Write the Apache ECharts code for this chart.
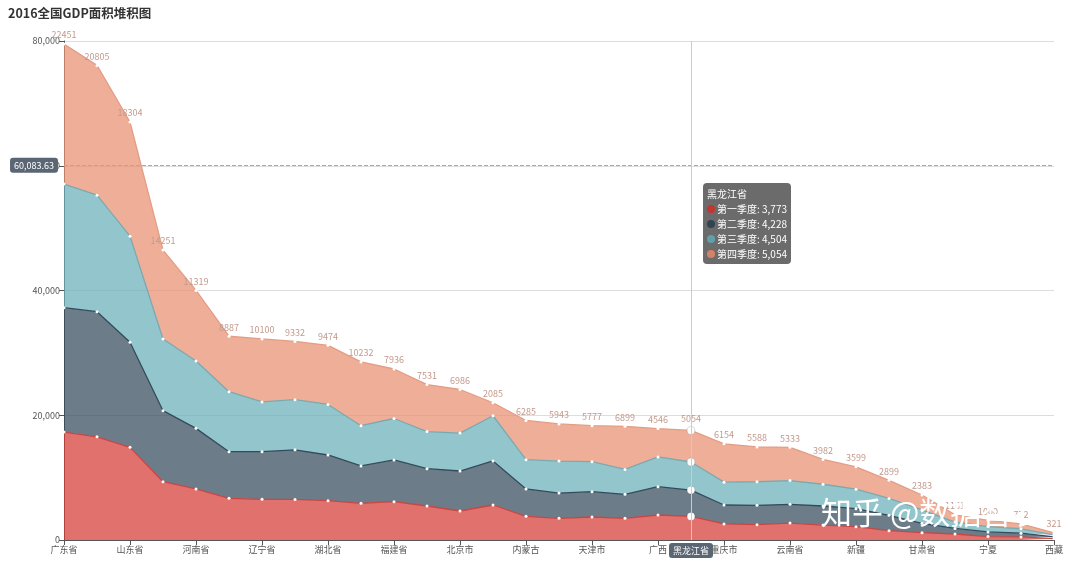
<!DOCTYPE html>
<html><head><meta charset="utf-8">
<script src="https://cdn.jsdelivr.net/npm/echarts@6/dist/echarts.min.js"></script>
<style>html,body{margin:0;padding:0;background:#fff}#c{width:1080px;height:563px}</style>
</head><body><div id="c"></div>
<script>
const provinces = ['广东省','江苏省','山东省','浙江省','河南省','四川省','辽宁省','河北省','湖北省','湖南省','福建省','上海市','北京市','安徽省','内蒙古','陕西省','天津市','江西省','广西','黑龙江省','重庆市','吉林省','云南省','山西省','新疆','贵州省','甘肃省','海南省','宁夏','青海省','西藏'];
const seriesNames = ['第一季度','第二季度','第三季度','第四季度'];
const q1 = [17300,16550,14850,9350,8180,6680,6520,6500,6300,5880,6140,5450,4650,5610,3790,3470,3690,3470,4010,3773,2570,2460,2720,2400,2140,1500,1180,960,550,500,220];
const q2 = [19950,20050,16840,11380,9720,7480,7640,7950,7330,5990,6690,5990,6410,7060,4390,4060,4060,3850,4540,4228,3040,3100,3000,3050,2880,2450,1500,900,750,600,290];
const q3 = [19811,18681,17014,11504,10800,9620,7980,8050,8100,6450,6650,5950,6080,7250,4700,5130,4800,4000,4760,4504,3660,3780,3800,3490,3120,2720,2150,1020,850,700,320];
const q4 = [22451,20805,18304,14251,11319,8887,10100,9332,9474,10232,7936,7531,6986,2085,6285,5943,5777,6899,4546,5054,6154,5588,5333,3982,3599,2899,2383,1161,1000,772,321];
const colors = ['#c23531','#2f4554','#61a0a8','#d48265'];
const lineColors = ['#b8403c','#2f4554','#6f9aa0','#cf8f78'];
const yMin = 0, yMax = 80000, yInterval = 20000;
const pointerCategory = '黑龙江省';
const pointerValue = 60083.63;
const titleText = '2016全国GDP面积堆积图';
const watermark = '知乎 @数据智农';

const FONT = "'Noto Sans CJK SC', 'Noto Sans', sans-serif";
const fmt = v => Number(v).toLocaleString('en-US');
const chart = echarts.init(document.getElementById('c'), null, {renderer: 'canvas'});
const allData = [q1, q2, q3, q4];

const option = {
  animation: false,
  color: colors,
  textStyle: {fontFamily: FONT},
  title: {text: titleText, left: 3, top: 2, textStyle: {fontSize: 12.5, fontWeight: 'bold', color: '#333', fontFamily: FONT}},
  grid: {left: 64, right: 26, top: 41, bottom: 23},
  tooltip: {
    trigger: 'axis',
    axisPointer: {type: 'cross', lineStyle: {color: '#ccc', width: 1, type: 'solid'}, crossStyle: {color: '#aaa', type: 'dashed'},
      label: {backgroundColor: '#5b6674', fontSize: 9, padding: [3, 4]}},
    backgroundColor: 'rgba(50,50,50,0.72)',
    borderWidth: 0,
    padding: [3, 4],
    textStyle: {color: '#fff', fontSize: 10, fontFamily: FONT},
    extraCssText: 'border-radius:4px;line-height:15px;box-shadow:none;',
    position: function (pt) { return [pt[0] + 20, pt[1] + 18]; },
    formatter: function (params) {
      let s = params[0].axisValue;
      params.forEach(p => {
        s += '<br/><span style="display:inline-block;width:8px;height:8px;border-radius:4px;margin-right:2px;background:' + colors[p.seriesIndex] + '"></span>' + p.seriesName + ': ' + fmt(p.value);
      });
      return s;
    }
  },
  xAxis: {
    type: 'category', boundaryGap: false, data: provinces,
    axisLabel: {interval: 1, fontSize: 9, color: '#555', margin: 5},
    axisTick: {alignWithLabel: true, interval: 1},
    axisLine: {lineStyle: {color: '#555'}},
    axisPointer: {label: {margin: 3}}
  },
  yAxis: {
    type: 'value', min: yMin, max: yMax, interval: yInterval,
    axisLabel: {formatter: fmt, fontSize: 9, color: '#555', margin: 4},
    axisLine: {show: true, lineStyle: {color: '#555'}},
    axisTick: {show: true},
    splitLine: {lineStyle: {color: '#ddd'}},
    axisPointer: {label: {formatter: p => Number(p.value).toLocaleString('en-US', {minimumFractionDigits: 2, maximumFractionDigits: 2}), margin: 6}}
  },
  graphic: [{
    type: 'text', left: 821, top: 497, z: 100,
    style: {text: watermark, fontSize: 31, fill: '#fff', fontFamily: FONT,
      shadowBlur: 3, shadowColor: 'rgba(0,0,0,0.55)', shadowOffsetX: 1, shadowOffsetY: 1}
  }],
  series: seriesNames.map((name, i) => ({
    name: name, type: 'line', stack: 'total', data: allData[i],
    areaStyle: {opacity: 0.72, color: colors[i]},
    lineStyle: {width: 1.3, color: lineColors[i]},
    symbol: 'circle', symbolSize: 3, showSymbol: true,
    itemStyle: {color: '#fff', borderColor: '#fff', borderWidth: 0},
    emphasis: {scale: 2.6, itemStyle: {color: '#fff', borderColor: 'rgba(0,0,0,0.15)', borderWidth: 1}},
    label: i === 3 ? {show: true, position: 'top', fontSize: 9, color: '#c39a8d', distance: 3} : {show: false}
  }))
};
chart.setOption(option);
const p = chart.convertToPixel({gridIndex: 0}, [pointerCategory, pointerValue]);
chart.dispatchAction({type: 'showTip', x: p[0] - 8, y: p[1]});
</script>
</body></html>
